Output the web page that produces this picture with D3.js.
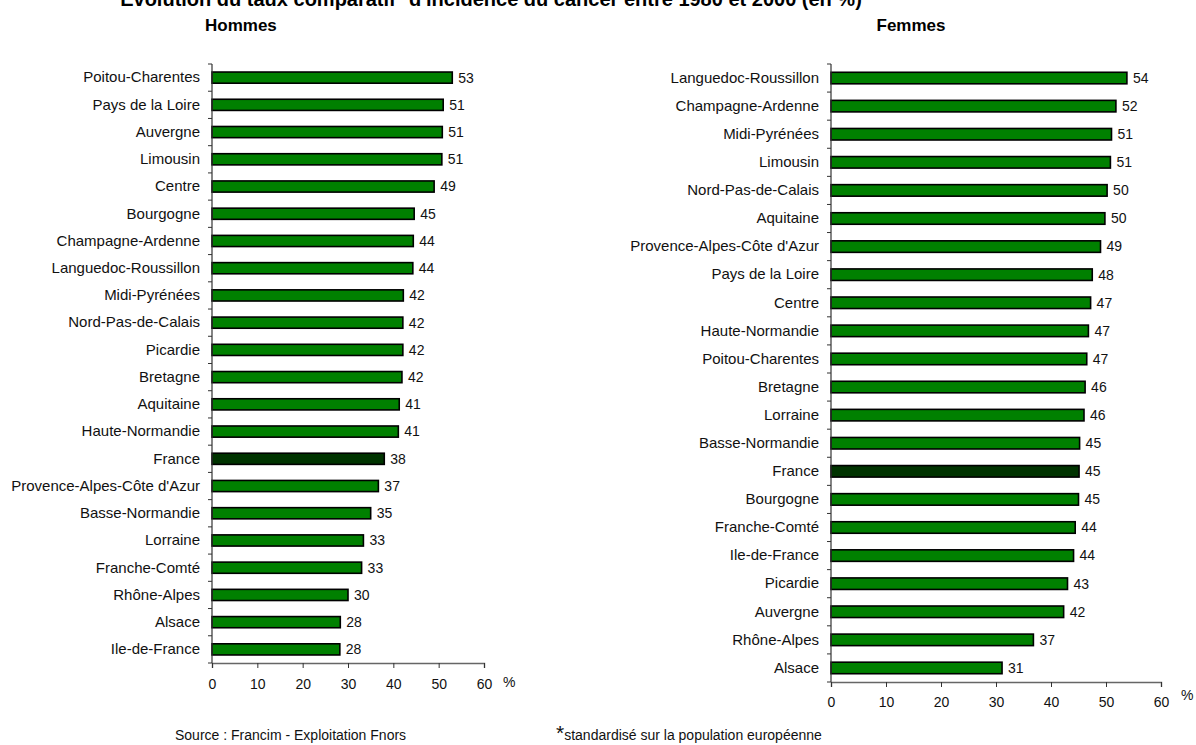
<!DOCTYPE html>
<html>
<head>
<meta charset="utf-8">
<script src="https://cdn.jsdelivr.net/npm/d3@7"></script>
<style>
  body { margin: 0; background: #fff; }
  svg { font-family: Arial, "Liberation Sans", Helvetica, sans-serif; }
</style>
</head>
<body>
<div id="chart"></div>
<script>
// Hommes, du plus fort au plus faible
var hommesRegions = ["Poitou-Charentes", "Pays de la Loire", "Auvergne", "Limousin", "Centre",
    "Bourgogne", "Champagne-Ardenne", "Languedoc-Roussillon", "Midi-Pyrénées", "Nord-Pas-de-Calais",
    "Picardie", "Bretagne", "Aquitaine", "Haute-Normandie", "France", "Provence-Alpes-Côte d'Azur",
    "Basse-Normandie", "Lorraine", "Franche-Comté", "Rhône-Alpes", "Alsace", "Ile-de-France"];
var hommesValues = [53.0, 51.0, 50.8, 50.7, 49.0, 44.6, 44.4, 44.3, 42.2, 42.1, 42.1, 41.9,
    41.3, 41.1, 38.0, 36.7, 35.0, 33.4, 33.0, 30.0, 28.3, 28.2];

// Femmes
var femmesRegions = ["Languedoc-Roussillon", "Champagne-Ardenne", "Midi-Pyrénées", "Limousin",
    "Nord-Pas-de-Calais", "Aquitaine", "Provence-Alpes-Côte d'Azur", "Pays de la Loire", "Centre",
    "Haute-Normandie", "Poitou-Charentes", "Bretagne", "Lorraine", "Basse-Normandie", "France",
    "Bourgogne", "Franche-Comté", "Ile-de-France", "Picardie", "Auvergne", "Rhône-Alpes", "Alsace"];
var femmesValues = [53.8, 51.8, 51.0, 50.8, 50.2, 49.8, 49.0, 47.5, 47.2, 46.8, 46.5, 46.2,
    46.0, 45.2, 45.1, 45.0, 44.4, 44.1, 43.0, 42.3, 36.8, 31.1];

var xTicks = [0, 10, 20, 30, 40, 50, 60];
var xMax = 60;

var barColor = "#008000";
var franceColor = "#003300";

var svg = d3.select("#chart").append("svg")
    .attr("width", 1196)
    .attr("height", 745);

function makeBarChart(regions, values, box) {
    var data = regions.map(function (r, i) { return {region: r, value: values[i]}; });

    var x = d3.scaleLinear().domain([0, xMax]).range([box.left, box.right]);
    var y = d3.scaleBand().domain(regions).range([box.top, box.bottom])
        .paddingInner(0.59).paddingOuter(0.295);

    var g = svg.append("g");

    // bars
    g.selectAll("rect.bar").data(data).enter().append("rect")
        .attr("class", "bar")
        .attr("x", x(0))
        .attr("y", function (d) { return y(d.region); })
        .attr("width", function (d) { return x(d.value) - x(0); })
        .attr("height", y.bandwidth())
        .attr("fill", function (d) { return d.region === "France" ? franceColor : barColor; })
        .attr("stroke", "#000")
        .attr("stroke-width", 1.6);

    // value labels
    g.selectAll("text.val").data(data).enter().append("text")
        .attr("class", "val")
        .attr("x", function (d) { return x(d.value) + 6; })
        .attr("y", function (d) { return y(d.region) + y.bandwidth() / 2; })
        .attr("dy", "0.35em")
        .style("font-size", "14px")
        .attr("fill", "#111")
        .text(function (d) { return Math.round(d.value); });

    // y axis: labels, ticks between categories
    var yAxis = g.append("g")
        .attr("transform", "translate(" + x(0) + ",0)")
        .call(d3.axisLeft(y).tickSize(0).tickPadding(12));
    yAxis.select(".domain").remove();
    yAxis.selectAll("text").style("font-size", "15px").attr("fill", "#111");

    var step = y.step();
    g.selectAll("line.ytick").data(d3.range(regions.length + 1)).enter().append("line")
        .attr("class", "ytick")
        .attr("x1", x(0) - 4).attr("x2", x(0))
        .attr("y1", function (i) { return box.top + i * step; })
        .attr("y2", function (i) { return box.top + i * step; })
        .attr("stroke", "#333").attr("stroke-width", 1);
    g.append("line")
        .attr("x1", x(0)).attr("x2", x(0))
        .attr("y1", box.top).attr("y2", box.bottom)
        .attr("stroke", "#333").attr("stroke-width", 1.2);

    // x axis
    var xAxis = g.append("g")
        .attr("transform", "translate(0," + box.bottom + ")")
        .call(d3.axisBottom(x).tickValues(xTicks).tickSize(5).tickPadding(box.pad));
    xAxis.select(".domain").attr("stroke", "#666").attr("stroke-width", 1.4);
    xAxis.selectAll(".tick line").attr("stroke", "#333");
    xAxis.selectAll("text").style("font-size", "14px").attr("fill", "#111");

    g.append("text")
        .attr("x", box.pctX).attr("y", box.pctY)
        .style("font-size", "14px")
        .attr("fill", "#111")
        .text("%");
}

makeBarChart(hommesRegions, hommesValues,
    {left: 212, right: 484, top: 64, bottom: 663, pad: 11, pctX: 503, pctY: 687});
makeBarChart(femmesRegions, femmesValues,
    {left: 831, right: 1161, top: 64, bottom: 682, pad: 10, pctX: 1181, pctY: 700});

// titres
svg.append("text")
    .attr("x", 491).attr("y", 6)
    .attr("text-anchor", "middle")
    .style("font-size", "20px").style("font-weight", "bold")
    .text("Evolution du taux comparatif* d'incidence du cancer entre 1980 et 2000 (en %)");
svg.append("text")
    .attr("x", 205).attr("y", 31)
    .style("font-size", "17px").style("font-weight", "bold")
    .text("Hommes");
svg.append("text")
    .attr("x", 911).attr("y", 31)
    .attr("text-anchor", "middle")
    .style("font-size", "17px").style("font-weight", "bold")
    .text("Femmes");

// notes
svg.append("text")
    .attr("x", 175).attr("y", 740)
    .style("font-size", "14px").attr("fill", "#111")
    .text("Source : Francim - Exploitation Fnors");
var note = svg.append("text")
    .attr("x", 556).attr("y", 740)
    .style("font-size", "14px").attr("fill", "#111");
note.append("tspan").style("font-size", "21px").text("*");
note.append("tspan").text("standardisé sur la population européenne");
</script>
</body>
</html>
